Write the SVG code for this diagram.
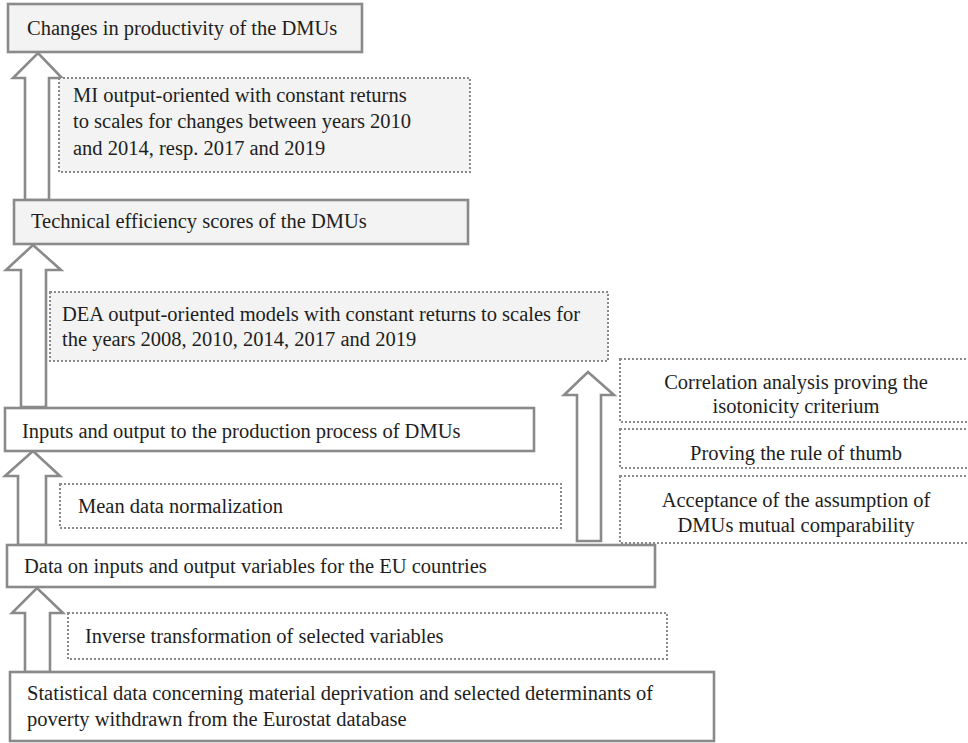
<svg xmlns="http://www.w3.org/2000/svg" width="968" height="743" viewBox="0 0 968 743">
<style>
.t{font-family:'Liberation Serif','DejaVu Serif',serif;font-size:20.5px;fill:#1e1e1e}
.box{fill:#ffffff;stroke:#8a8a8a;stroke-width:2.6}
.gbox{fill:#f2f3f2;stroke:#8a8a8a;stroke-width:2.6}
.dot{fill:#ffffff;stroke:#8a8a8a;stroke-width:2;stroke-dasharray:2 2}
.gdot{fill:#f2f3f2;stroke:#8a8a8a;stroke-width:2;stroke-dasharray:2 2}
.arrow{fill:#ffffff;stroke:#8a8a8a;stroke-width:2.6;stroke-linejoin:miter}
.c{text-anchor:middle}
</style>
<rect width="968" height="743" fill="#ffffff"/>
<g id="connectors">
<polygon class="arrow" points="25,200 25,78 13,78 38,53 62,78 49,78 49,200"/>
<polygon class="arrow" points="21,407 21,270 6,270 33,245 61,270 46,270 46,407"/>
<polygon class="arrow" points="18,545 18,476 5,476 33,451 60,476 46,476 46,545"/>
<polygon class="arrow" points="25,672 25,613 12,613 37,588 63,613 50,613 50,672"/>
<polygon class="arrow" points="577,541 577,395 564,395 588,372 614,395 601,395 601,541"/>
</g>
<g font-family="Liberation Serif, DejaVu Serif, serif" font-size="20.5">
<g id="n1">
<rect class="gbox" x="8" y="4" width="354" height="48"/>
<text class="t" x="27" y="35">Changes in productivity of the DMUs</text>
</g>
<g id="mi">
<rect class="gdot" x="59" y="78" width="411" height="94"/>
<text class="t" x="73" y="102">MI output-oriented with constant returns</text>
<text class="t" x="73" y="128">to scales for changes between years 2010</text>
<text class="t" x="73" y="155">and 2014, resp. 2017 and 2019</text>
</g>
<g id="n2">
<rect class="gbox" x="14" y="200" width="454" height="44"/>
<text class="t" x="31" y="228">Technical efficiency scores of the DMUs</text>
</g>
<g id="dea">
<rect class="gdot" x="50" y="292" width="558" height="69"/>
<text class="t" x="62" y="321">DEA output-oriented models with constant returns to scales for</text>
<text class="t" x="62" y="346">the years 2008, 2010, 2014, 2017 and 2019</text>
</g>
<g id="corr">
<rect class="dot" x="620" y="359" width="352" height="63"/>
<text class="t c" x="796" y="389">Correlation analysis proving the</text>
<text class="t c" x="796" y="413">isotonicity criterium</text>
</g>
<g id="thumb">
<rect class="dot" x="620" y="429" width="352" height="39"/>
<text class="t c" x="796" y="460">Proving the rule of thumb</text>
</g>
<g id="accept">
<rect class="dot" x="620" y="476" width="352" height="67"/>
<text class="t c" x="796" y="507">Acceptance of the assumption of</text>
<text class="t c" x="796" y="532">DMUs mutual comparability</text>
</g>
<g id="n3">
<rect class="box" x="5" y="408" width="529" height="43"/>
<text class="t" x="22" y="438">Inputs and output to the production process of DMUs</text>
</g>
<g id="mean">
<rect class="dot" x="60" y="484" width="501" height="44"/>
<text class="t" x="78" y="513">Mean data normalization</text>
</g>
<g id="n4">
<rect class="box" x="7" y="545" width="648" height="42"/>
<text class="t" x="24" y="573">Data on inputs and output variables for the EU countries</text>
</g>
<g id="inverse">
<rect class="dot" x="68" y="613" width="599" height="46"/>
<text class="t" x="85" y="643">Inverse transformation of selected variables</text>
</g>
<g id="n5">
<rect class="box" x="10" y="672" width="704" height="69"/>
<text class="t" x="27" y="700">Statistical data concerning material deprivation and selected determinants of</text>
<text class="t" x="27" y="726">poverty withdrawn from the Eurostat database</text>
</g>
</g>
</svg>
